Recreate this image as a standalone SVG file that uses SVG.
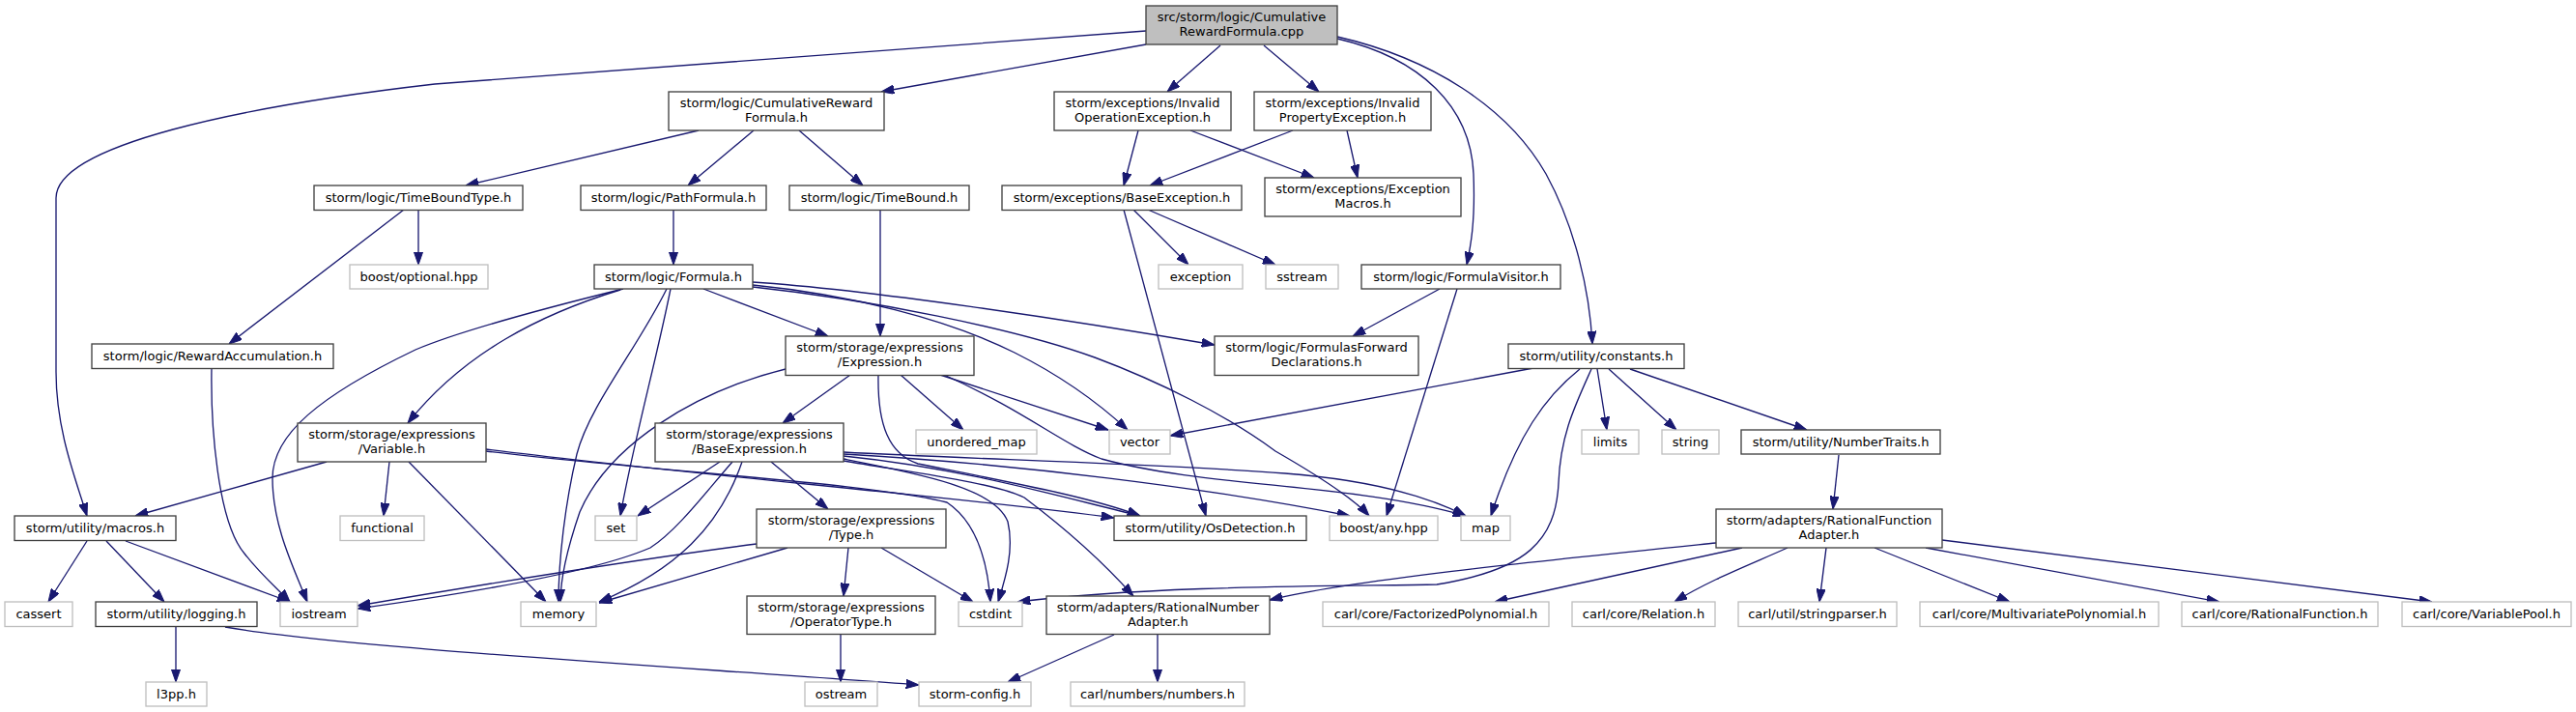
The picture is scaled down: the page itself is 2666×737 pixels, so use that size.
<svg xmlns="http://www.w3.org/2000/svg" width="2666" height="737" viewBox="0 0 2666 737">
<defs>
<style>
.n rect{fill:#fff;stroke:#404040;stroke-width:1.33}
.x rect{fill:#fff;stroke:#bfbfbf;stroke-width:1.33}
.r rect{fill:#bfbfbf;stroke:#404040;stroke-width:1.33}
text{font-family:"DejaVu Sans","Liberation Sans",sans-serif;font-size:13px;fill:#000;text-anchor:middle}
.e path{fill:none;stroke:#191970;stroke-width:1.33;marker-end:url(#ah)}
</style>
<marker id="ah" markerUnits="userSpaceOnUse" viewBox="0 0 13.3 9.3" refX="13.3" refY="4.65" markerWidth="13.3" markerHeight="9.3" orient="auto">
<path d="M0,0 L13.3,4.65 L0,9.3 z" fill="#191970" stroke="#191970" stroke-width="1"/>
</marker>
</defs>
<rect width="2666" height="737" fill="#fff"/>
<g class="e" id="edges">
<path d="M1186,32 L450,87 C250,110 58,150 58,205 L58,385 C58,445 78,495 90,534"/>
<path d="M1186,46 L912,95"/>
<path d="M1263,47 L1208,95"/>
<path d="M1308,47 L1365,95"/>
<path d="M1384,40 C1470,60 1522,110 1525,180 C1527,230 1522,255 1518,274"/>
<path d="M1384,38 C1480,60 1560,110 1600,180 C1630,235 1645,300 1648,356"/>
<path d="M723,135 L482,192"/>
<path d="M780,135 L712,192"/>
<path d="M827,135 L893,192"/>
<path d="M1178,135 L1163,192"/>
<path d="M1232,135 L1360,184"/>
<path d="M1338,135 L1190,192"/>
<path d="M1394,135 L1405,184"/>
<path d="M433,217 L433,274"/>
<path d="M418,217 L237,356"/>
<path d="M697,217 L697,274"/>
<path d="M911,217 L911,348"/>
<path d="M1173,217 L1230,274"/>
<path d="M1188,217 L1320,274"/>
<path d="M1163,217 L1248,534"/>
<path d="M1490,299 L1400,348"/>
<path d="M1508,299 L1435,534"/>
<path d="M645,299 C560,320 470,345 430,362 C330,410 282,450 282,495 C282,545 305,590 318,623"/>
<path d="M642,300 C560,325 480,365 422,438"/>
<path d="M690,299 C660,360 610,420 597,470 C585,520 578,580 578,623"/>
<path d="M694,299 C680,370 655,460 642,534"/>
<path d="M728,299 L857,348"/>
<path d="M779,295 C880,305 980,330 1050,365 C1100,390 1140,420 1167,445"/>
<path d="M779,292 C900,300 1100,330 1257,357"/>
<path d="M779,297 C900,310 1050,340 1133,370 C1200,395 1270,430 1320,467 C1360,490 1400,515 1417,534"/>
<path d="M219,381 C218,440 225,540 253,573 C270,595 290,612 300,623"/>
<path d="M338,478 L140,534"/>
<path d="M403,478 L397,534"/>
<path d="M423,478 L565,623"/>
<path d="M503,467 C700,490 900,500 980,520 C1010,540 1022,580 1025,623"/>
<path d="M503,465 C700,490 1000,515 1153,536"/>
<path d="M813,382 C720,405 630,460 600,530 C588,565 580,600 580,623"/>
<path d="M880,388 L810,438"/>
<path d="M932,388 L997,445"/>
<path d="M973,388 L1147,445"/>
<path d="M977,388 C1060,425 1100,460 1140,475 C1250,505 1400,500 1517,534"/>
<path d="M909,388 C908,440 920,470 950,480 C1050,500 1130,515 1180,534"/>
<path d="M745,478 L660,534"/>
<path d="M758,478 C730,510 700,550 673,567 C620,590 500,612 370,630"/>
<path d="M768,478 C745,545 700,590 620,623"/>
<path d="M798,478 L857,527"/>
<path d="M873,472 C1000,485 1100,515 1180,534"/>
<path d="M873,475 C950,490 1030,505 1043,540 C1050,570 1040,600 1033,623"/>
<path d="M873,477 C950,490 1030,500 1060,515 C1100,545 1140,580 1173,617"/>
<path d="M873,470 C1050,480 1250,505 1397,534"/>
<path d="M873,468 C1000,475 1200,480 1330,490 C1420,497 1480,515 1517,534"/>
<path d="M783,563 C650,580 500,605 370,627"/>
<path d="M815,567 L620,624"/>
<path d="M878,567 L873,617"/>
<path d="M912,567 L1007,623"/>
<path d="M870,656 L870,706"/>
<path d="M90,560 L50,623"/>
<path d="M110,560 L170,623"/>
<path d="M130,560 L300,623"/>
<path d="M182,649 L182,706"/>
<path d="M233,649 C350,670 700,690 951,709"/>
<path d="M1153,657 L1043,706"/>
<path d="M1198,657 L1198,706"/>
<path d="M1587,381 L1211,451"/>
<path d="M1635,382 C1600,410 1570,450 1543,534"/>
<path d="M1647,382 C1630,420 1615,450 1613,500 C1610,560 1580,590 1487,605 C1400,607 1200,605 1053,623"/>
<path d="M1653,382 L1663,445"/>
<path d="M1665,382 L1735,445"/>
<path d="M1687,382 L1870,445"/>
<path d="M1903,471 L1897,527"/>
<path d="M1776,562 C1600,580 1400,600 1314,621"/>
<path d="M1803,567 L1547,623"/>
<path d="M1850,567 C1810,585 1770,600 1733,623"/>
<path d="M1890,567 L1883,623"/>
<path d="M1940,567 L2080,623"/>
<path d="M1993,567 L2297,623"/>
<path d="M2010,559 L2517,623"/>
</g>
<g id="n_root" class="r"><rect x="1186" y="6" width="198" height="40"/><text x="1285" y="22">src/storm/logic/Cumulative</text><text x="1285" y="37">RewardFormula.cpp</text></g>
<g id="n_crf" class="n"><rect x="692" y="95" width="223" height="40"/><text x="803.5" y="111">storm/logic/CumulativeReward</text><text x="803.5" y="126">Formula.h</text></g>
<g id="n_invop" class="n"><rect x="1091" y="95" width="183" height="40"/><text x="1182.5" y="111">storm/exceptions/Invalid</text><text x="1182.5" y="126">OperationException.h</text></g>
<g id="n_invprop" class="n"><rect x="1298" y="95" width="183" height="40"/><text x="1389.5" y="111">storm/exceptions/Invalid</text><text x="1389.5" y="126">PropertyException.h</text></g>
<g id="n_tbt" class="n"><rect x="325" y="192" width="216" height="25.5"/><text x="433" y="209">storm/logic/TimeBoundType.h</text></g>
<g id="n_path" class="n"><rect x="601" y="192" width="192" height="25.5"/><text x="697" y="209">storm/logic/PathFormula.h</text></g>
<g id="n_tb" class="n"><rect x="817" y="192" width="186" height="25.5"/><text x="910" y="209">storm/logic/TimeBound.h</text></g>
<g id="n_baseexc" class="n"><rect x="1037" y="192" width="248" height="25.5"/><text x="1161" y="209">storm/exceptions/BaseException.h</text></g>
<g id="n_excmac" class="n"><rect x="1309" y="184" width="203" height="40"/><text x="1410.5" y="200">storm/exceptions/Exception</text><text x="1410.5" y="215">Macros.h</text></g>
<g id="n_optional" class="x"><rect x="362" y="274" width="143" height="25"/><text x="433.5" y="291">boost/optional.hpp</text></g>
<g id="n_formula" class="n"><rect x="615" y="274" width="164" height="25"/><text x="697" y="291">storm/logic/Formula.h</text></g>
<g id="n_exception" class="x"><rect x="1199" y="274" width="87" height="25"/><text x="1242.5" y="291">exception</text></g>
<g id="n_sstream" class="x"><rect x="1310" y="274" width="75" height="25"/><text x="1347.5" y="291">sstream</text></g>
<g id="n_fvisitor" class="n"><rect x="1409" y="274" width="206" height="25"/><text x="1512" y="291">storm/logic/FormulaVisitor.h</text></g>
<g id="n_rewacc" class="n"><rect x="95" y="356" width="250" height="25.5"/><text x="220" y="373">storm/logic/RewardAccumulation.h</text></g>
<g id="n_expr" class="n"><rect x="813" y="348" width="195" height="40.5"/><text x="910.5" y="364">storm/storage/expressions</text><text x="910.5" y="379">/Expression.h</text></g>
<g id="n_ffd" class="n"><rect x="1257" y="348" width="211" height="40.5"/><text x="1362.5" y="364">storm/logic/FormulasForward</text><text x="1362.5" y="379">Declarations.h</text></g>
<g id="n_constants" class="n"><rect x="1561" y="356" width="182" height="25.5"/><text x="1652" y="373">storm/utility/constants.h</text></g>
<g id="n_variable" class="n"><rect x="308" y="438" width="195" height="40"/><text x="405.5" y="454">storm/storage/expressions</text><text x="405.5" y="469">/Variable.h</text></g>
<g id="n_baseexpr" class="n"><rect x="678" y="438" width="195" height="40"/><text x="775.5" y="454">storm/storage/expressions</text><text x="775.5" y="469">/BaseExpression.h</text></g>
<g id="n_umap" class="x"><rect x="948" y="445" width="125" height="25"/><text x="1010.5" y="462">unordered_map</text></g>
<g id="n_vector" class="x"><rect x="1148" y="445" width="63" height="25"/><text x="1179.5" y="462">vector</text></g>
<g id="n_limits" class="x"><rect x="1637" y="445" width="59" height="25"/><text x="1666.5" y="462">limits</text></g>
<g id="n_string" class="x"><rect x="1720" y="445" width="59" height="25"/><text x="1749.5" y="462">string</text></g>
<g id="n_ntraits" class="n"><rect x="1802" y="445" width="206" height="25"/><text x="1905" y="462">storm/utility/NumberTraits.h</text></g>
<g id="n_macros" class="n"><rect x="15" y="534" width="167" height="25.5"/><text x="98.5" y="551">storm/utility/macros.h</text></g>
<g id="n_functional" class="x"><rect x="352" y="534" width="87" height="25.5"/><text x="395.5" y="551">functional</text></g>
<g id="n_set" class="x"><rect x="616" y="534" width="43" height="25.5"/><text x="637.5" y="551">set</text></g>
<g id="n_type" class="n"><rect x="783" y="527" width="196" height="40"/><text x="881" y="543">storm/storage/expressions</text><text x="881" y="558">/Type.h</text></g>
<g id="n_osdet" class="n"><rect x="1153" y="534" width="199" height="25.5"/><text x="1252.5" y="551">storm/utility/OsDetection.h</text></g>
<g id="n_any" class="x"><rect x="1376" y="534" width="112" height="25.5"/><text x="1432" y="551">boost/any.hpp</text></g>
<g id="n_map" class="x"><rect x="1512" y="534" width="51" height="25.5"/><text x="1537.5" y="551">map</text></g>
<g id="n_rfa" class="n"><rect x="1776" y="527" width="234" height="40"/><text x="1893" y="543">storm/adapters/RationalFunction</text><text x="1893" y="558">Adapter.h</text></g>
<g id="n_cassert" class="x"><rect x="5" y="623" width="70" height="25.5"/><text x="40" y="640">cassert</text></g>
<g id="n_logging" class="n"><rect x="99" y="623" width="167" height="25.5"/><text x="182.5" y="640">storm/utility/logging.h</text></g>
<g id="n_iostream" class="x"><rect x="290" y="623" width="80" height="25.5"/><text x="330" y="640">iostream</text></g>
<g id="n_memory" class="x"><rect x="539" y="623" width="78" height="25.5"/><text x="578" y="640">memory</text></g>
<g id="n_optype" class="n"><rect x="773" y="617" width="195" height="39.5"/><text x="870.5" y="633">storm/storage/expressions</text><text x="870.5" y="648">/OperatorType.h</text></g>
<g id="n_cstdint" class="x"><rect x="992" y="623" width="66" height="25.5"/><text x="1025" y="640">cstdint</text></g>
<g id="n_rna" class="n"><rect x="1083" y="617" width="231" height="39.5"/><text x="1198.5" y="633">storm/adapters/RationalNumber</text><text x="1198.5" y="648">Adapter.h</text></g>
<g id="n_factpoly" class="x"><rect x="1369" y="623" width="234" height="25.5"/><text x="1486" y="640">carl/core/FactorizedPolynomial.h</text></g>
<g id="n_relation" class="x"><rect x="1627" y="623" width="148" height="25.5"/><text x="1701" y="640">carl/core/Relation.h</text></g>
<g id="n_strparser" class="x"><rect x="1799" y="623" width="164" height="25.5"/><text x="1881" y="640">carl/util/stringparser.h</text></g>
<g id="n_multipoly" class="x"><rect x="1987" y="623" width="247" height="25.5"/><text x="2110.5" y="640">carl/core/MultivariatePolynomial.h</text></g>
<g id="n_ratfunc" class="x"><rect x="2258" y="623" width="203" height="25.5"/><text x="2359.5" y="640">carl/core/RationalFunction.h</text></g>
<g id="n_varpool" class="x"><rect x="2486" y="623" width="175" height="25.5"/><text x="2573.5" y="640">carl/core/VariablePool.h</text></g>
<g id="n_l3pp" class="x"><rect x="151" y="706" width="63" height="25"/><text x="182.5" y="723">l3pp.h</text></g>
<g id="n_ostream" class="x"><rect x="833" y="706" width="75" height="25"/><text x="870.5" y="723">ostream</text></g>
<g id="n_stormcfg" class="x"><rect x="951" y="706" width="116" height="25"/><text x="1009" y="723">storm-config.h</text></g>
<g id="n_numbers" class="x"><rect x="1108" y="706" width="180" height="25"/><text x="1198" y="723">carl/numbers/numbers.h</text></g>
</svg>
